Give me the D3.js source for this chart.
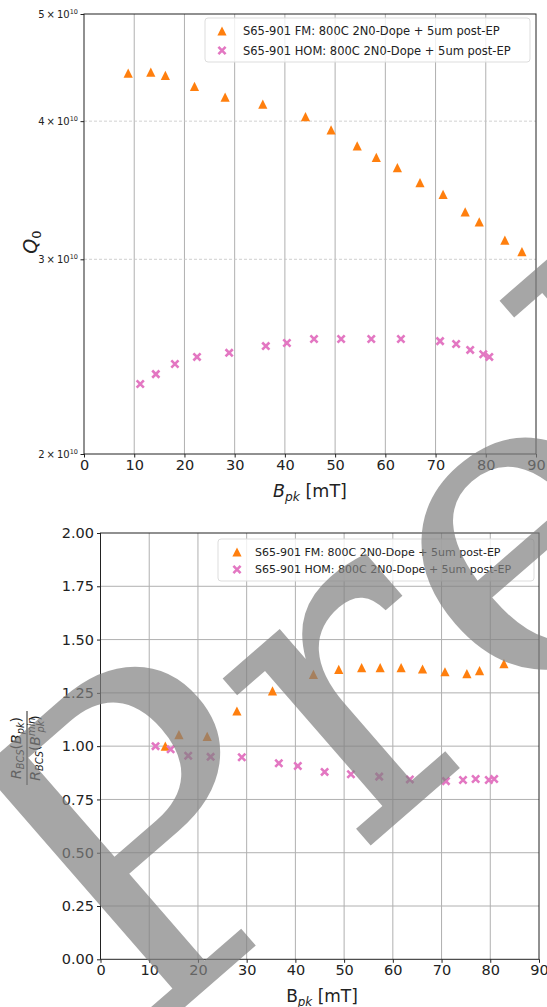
<!DOCTYPE html>
<html>
<head>
<meta charset="utf-8">
<script src="https://cdn.jsdelivr.net/npm/d3@7"></script>
<style>
body { margin: 0; background: #fff; }
svg { display: block; font-family: "DejaVu Sans", sans-serif; }
</style>
</head>
<body>
<div id="chart"></div>
<script>
// ---- data ----
var legendFM = "S65-901 FM: 800C 2N0-Dope + 5um post-EP";
var legendHOM = "S65-901 HOM: 800C 2N0-Dope + 5um post-EP";

// top panel: Q0 vs Bpk
var fmB = [8.8, 13.3, 16.2, 22.0, 28.1, 35.6, 44.1, 49.2, 54.4, 58.2, 62.4, 66.9, 71.5, 75.9, 78.7, 83.8, 87.2];
var fmQ = [4.42e10, 4.43e10, 4.40e10, 4.30e10, 4.205e10, 4.144e10, 4.038e10, 3.928e10, 3.799e10, 3.710e10, 3.631e10, 3.519e10, 3.435e10, 3.311e10, 3.243e10, 3.122e10, 3.048e10];
var homB = [11.2, 14.3, 18.1, 22.5, 28.9, 36.2, 40.4, 45.8, 51.2, 57.2, 63.1, 70.9, 74.1, 76.9, 79.5, 80.7];
var homQ = [2.314e10, 2.362e10, 2.412e10, 2.448e10, 2.469e10, 2.504e10, 2.520e10, 2.541e10, 2.541e10, 2.541e10, 2.541e10, 2.530e10, 2.515e10, 2.484e10, 2.462e10, 2.448e10];
var qTicks = [2, 3, 4, 5];   // mantissas of the labelled ticks (x 10^10)

// bottom panel: normalised R_BCS vs Bpk
var fmB2 = [13.3, 16.1, 21.9, 28.0, 35.3, 43.7, 48.9, 53.6, 57.4, 61.7, 66.1, 70.7, 75.2, 77.8, 82.8];
var fmR = [1.00, 1.054, 1.046, 1.165, 1.259, 1.337, 1.36, 1.368, 1.368, 1.368, 1.362, 1.349, 1.340, 1.354, 1.387];
var homB2 = [11.3, 14.4, 18.0, 22.6, 29.0, 36.6, 40.5, 46.0, 51.4, 57.2, 63.5, 70.9, 74.4, 77.0, 79.7, 80.8];
var homR = [1.00, 0.985, 0.955, 0.950, 0.948, 0.920, 0.907, 0.879, 0.868, 0.857, 0.844, 0.836, 0.841, 0.846, 0.841, 0.846];
var rTicks = [0, 0.25, 0.5, 0.75, 1.0, 1.25, 1.5, 1.75, 2.0];
var bTicks = [0, 10, 20, 30, 40, 50, 60, 70, 80, 90];

var orange = "#ff7f0e";
var pink = "#e377c2";

var svg = d3.select("#chart").append("svg")
	.attr("width", 547)
	.attr("height", 1007);

function triPath(r) {
	return "M0," + (-r) + "L" + r + "," + r + "L" + (-r) + "," + r + "Z";
}
function crossPath(r) {
	return "M" + (-r) + "," + (-r) + "L" + r + "," + r + "M" + (-r) + "," + r + "L" + r + "," + (-r);
}

function drawTri(g, x, y) {
	g.append("path").attr("d", triPath(4.6))
		.attr("transform", "translate(" + x + "," + y + ")")
		.attr("fill", orange);
}
function drawCross(g, x, y) {
	g.append("path").attr("d", crossPath(3.6))
		.attr("transform", "translate(" + x + "," + y + ")")
		.attr("stroke", pink).attr("stroke-width", 2.6)
		.attr("fill", "none");
}

function drawLegend(g, box, fs) {
	g.append("rect")
		.attr("x", box.x).attr("y", box.y)
		.attr("width", box.w).attr("height", box.h)
		.attr("rx", 3)
		.attr("fill", "#fff").attr("fill-opacity", 0.8)
		.attr("stroke", "#ddd");
	drawTri(g, box.mx, box.y1);
	drawCross(g, box.mx, box.y2);
	g.append("text").attr("x", box.tx).attr("y", box.y1 + fs * 0.36)
		.attr("font-size", fs).attr("fill", "#222").text(legendFM);
	g.append("text").attr("x", box.tx).attr("y", box.y2 + fs * 0.36)
		.attr("font-size", fs).attr("fill", "#222").text(legendHOM);
}

// x label "B_pk [mT]"
function bLabel(g, cx, cy, fs, italicB) {
	var t = g.append("text")
		.attr("x", cx).attr("y", cy)
		.attr("text-anchor", "middle")
		.attr("font-size", fs).attr("fill", "#222");
	t.append("tspan").attr("font-style", italicB ? "italic" : "normal").text("B");
	t.append("tspan").attr("font-style", "italic").attr("font-size", fs * 0.7).attr("dy", fs * 0.22).text("pk");
	t.append("tspan").attr("dy", -fs * 0.22).text(" [mT]");
}

// ================= top panel =================
var tp = { l: 84, r: 536, t: 14, b: 454 };
var x1 = d3.scaleLinear().domain([0, 90]).range([tp.l, tp.r]);
var y1 = d3.scaleLog().domain([2e10, 5e10]).range([tp.b, tp.t]);

var g1 = svg.append("g");

// grid
g1.selectAll(".vgrid").data(bTicks.slice(1, -1)).enter().append("line")
	.attr("x1", d => x1(d)).attr("x2", d => x1(d))
	.attr("y1", tp.t).attr("y2", tp.b)
	.attr("stroke", "#b0b0b0").attr("stroke-width", 1);
g1.selectAll(".hgrid").data([3e10, 4e10]).enter().append("line")
	.attr("x1", tp.l).attr("x2", tp.r)
	.attr("y1", d => y1(d)).attr("y2", d => y1(d))
	.attr("stroke", "#c4c4c4").attr("stroke-width", 0.8)
	.attr("stroke-dasharray", "3,2");

// axes
var xAxis1 = d3.axisBottom(x1).tickValues(bTicks).tickSize(3.5).tickPadding(2).tickFormat(d3.format("d"));
var gx1 = g1.append("g").attr("transform", "translate(0," + tp.b + ")").call(xAxis1);
gx1.select(".domain").remove();
gx1.selectAll("text").attr("font-size", 14.5).attr("fill", "#222").attr("font-family", "DejaVu Sans");
gx1.selectAll("line").attr("stroke", "#222");

var yAxis1 = d3.axisLeft(y1).tickValues(qTicks.map(d => d * 1e10)).tickSize(3.5).tickFormat("");
var gy1 = g1.append("g").attr("transform", "translate(" + tp.l + ",0)").call(yAxis1);
gy1.select(".domain").remove();
gy1.selectAll("line").attr("stroke", "#222");
gy1.selectAll(".tick").each(function(d) {
	var t = d3.select(this).append("text")
		.attr("x", -6).attr("dy", "0.32em")
		.attr("text-anchor", "end")
		.attr("font-size", 10).attr("fill", "#222")
		.attr("font-family", "DejaVu Sans");
	t.append("tspan").text(Math.round(d / 1e10) + "\u2009\u00d7\u200910");
	t.append("tspan").attr("font-size", 6.5).attr("dy", -4).text("10");
});

// frame
g1.append("rect")
	.attr("x", tp.l).attr("y", tp.t)
	.attr("width", tp.r - tp.l).attr("height", tp.b - tp.t)
	.attr("fill", "none").attr("stroke", "#222").attr("stroke-width", 1);

// points
fmB.forEach(function(b, i) { drawTri(g1, x1(b), y1(fmQ[i])); });
homB.forEach(function(b, i) { drawCross(g1, x1(b), y1(homQ[i])); });

drawLegend(g1, { x: 205, y: 18, w: 325, h: 44, mx: 222, tx: 243, y1: 31, y2: 50.5 }, 11.5);

bLabel(g1, 310, 497, 17.5, true);

// Q0 label
var q0 = g1.append("text")
	.attr("transform", "translate(37,242) rotate(-90)")
	.attr("text-anchor", "middle")
	.attr("font-size", 19).attr("fill", "#222");
q0.append("tspan").attr("font-style", "italic").text("Q");
q0.append("tspan").attr("font-size", 13).attr("dy", 4).text("0");

// ================= bottom panel =================
var bot = { l: 100.5, r: 539, t: 533, b: 959.3 };
var x2 = d3.scaleLinear().domain([0, 90]).range([bot.l, bot.r]);
var y2 = d3.scaleLinear().domain([0, 2]).range([bot.b, bot.t]);

var g2 = svg.append("g");

g2.selectAll(".vgrid").data(bTicks.slice(1, -1)).enter().append("line")
	.attr("x1", d => x2(d)).attr("x2", d => x2(d))
	.attr("y1", bot.t).attr("y2", bot.b)
	.attr("stroke", "#b0b0b0").attr("stroke-width", 1);
g2.selectAll(".hgrid").data(rTicks.slice(1, -1)).enter().append("line")
	.attr("x1", bot.l).attr("x2", bot.r)
	.attr("y1", d => y2(d)).attr("y2", d => y2(d))
	.attr("stroke", "#b0b0b0").attr("stroke-width", 1);

var xAxis2 = d3.axisBottom(x2).tickValues(bTicks).tickSize(3.5).tickPadding(2).tickFormat(d3.format("d"));
var gx2 = g2.append("g").attr("transform", "translate(0," + bot.b + ")").call(xAxis2);
gx2.select(".domain").remove();
gx2.selectAll("text").attr("font-size", 14.5).attr("fill", "#222").attr("font-family", "DejaVu Sans");
gx2.selectAll("line").attr("stroke", "#222");

var yAxis2 = d3.axisLeft(y2).tickValues(rTicks).tickSize(3.5).tickPadding(3).tickFormat(d3.format(".2f"));
var gy2 = g2.append("g").attr("transform", "translate(" + bot.l + ",0)").call(yAxis2);
gy2.select(".domain").remove();
gy2.selectAll("text").attr("font-size", 14.5).attr("fill", "#222").attr("font-family", "DejaVu Sans");
gy2.selectAll("line").attr("stroke", "#222");

g2.append("rect")
	.attr("x", bot.l).attr("y", bot.t)
	.attr("width", bot.r - bot.l).attr("height", bot.b - bot.t)
	.attr("fill", "none").attr("stroke", "#222").attr("stroke-width", 1);

fmB2.forEach(function(b, i) { drawTri(g2, x2(b), y2(fmR[i])); });
homB2.forEach(function(b, i) { drawCross(g2, x2(b), y2(homR[i])); });

drawLegend(g2, { x: 218, y: 539, w: 316, h: 42, mx: 237, tx: 255, y1: 552, y2: 569.5 }, 11);

bLabel(g2, 322, 1002, 17, false);

// fraction y label
var fr = g2.append("g").attr("transform", "translate(27,748) rotate(-90)");
var fs = 14;
var num = fr.append("text").attr("y", -6).attr("text-anchor", "middle")
	.attr("font-size", fs).attr("fill", "#222").attr("font-style", "italic");
num.append("tspan").text("R");
num.append("tspan").attr("font-size", fs * 0.7).attr("dy", 3).text("BCS");
num.append("tspan").attr("dy", -3).attr("font-style", "normal").text("(");
num.append("tspan").text("B");
num.append("tspan").attr("font-size", fs * 0.7).attr("dy", 3).text("pk");
num.append("tspan").attr("dy", -3).attr("font-style", "normal").text(")");
fr.append("line").attr("x1", -37).attr("x2", 37).attr("y1", 0).attr("y2", 0)
	.attr("stroke", "#222").attr("stroke-width", 1);
var den = fr.append("text").attr("y", 13).attr("text-anchor", "middle")
	.attr("font-size", fs).attr("fill", "#222").attr("font-style", "italic");
den.append("tspan").text("R");
den.append("tspan").attr("font-size", fs * 0.7).attr("dy", 3).text("BCS");
den.append("tspan").attr("dy", -3).attr("font-style", "normal").text("(");
den.append("tspan").text("B");
den.append("tspan").attr("font-size", fs * 0.7).attr("dy", -5).text("min");
den.append("tspan").attr("font-size", fs * 0.7).attr("dx", -15).attr("dy", 9).text("pk");
den.append("tspan").attr("dy", -4).attr("font-style", "normal").text(")");

// ================= watermark =================
svg.append("text")
	.attr("transform", "translate(139,1047) rotate(-41)")
	.attr("font-family", "DejaVu Serif")
	.attr("font-size", 430)
	.attr("fill", "#808080").attr("fill-opacity", 0.7)
	.text("Preliminary");
</script>
</body>
</html>
